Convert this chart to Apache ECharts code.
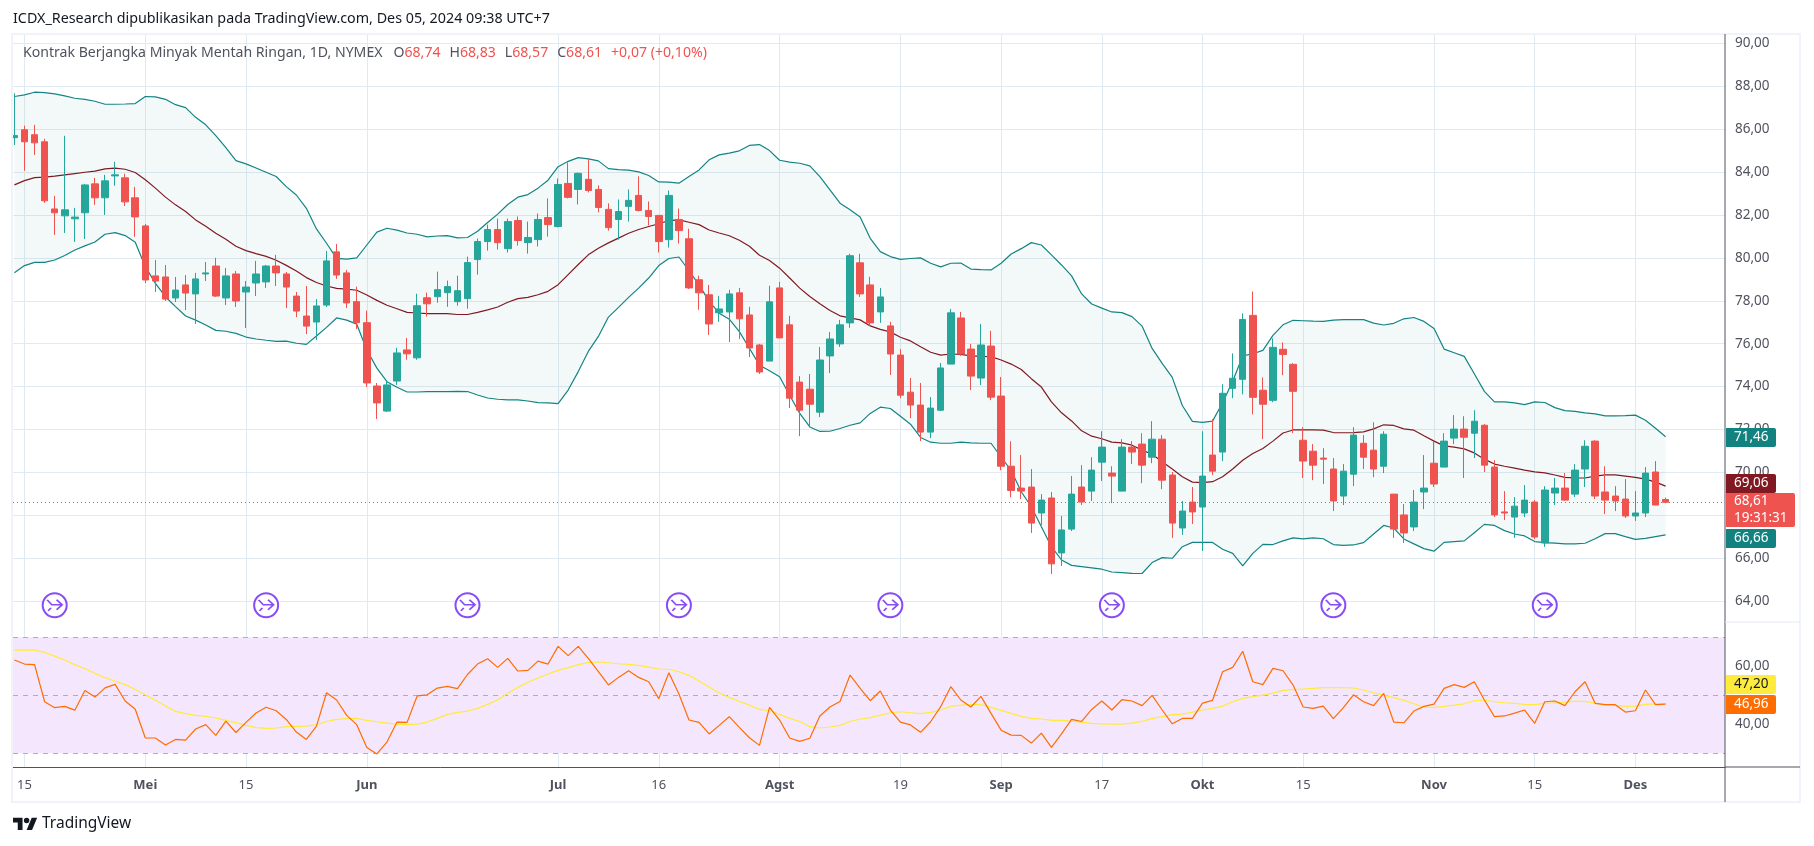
<!DOCTYPE html>
<html><head><meta charset="utf-8">
<style>html,body{margin:0;padding:0;background:#fff}#c{width:1814px;height:846px}</style>
<script src="https://cdn.jsdelivr.net/npm/echarts@6/dist/echarts.min.js"></script>
</head><body><div id="c"></div>
<script>
const opens=[85.6,85.97,85.74,85.41,82.28,81.96,81.82,82.10,83.45,82.80,83.82,83.73,82.80,81.49,79.16,79.11,78.13,78.74,78.32,79.25,79.62,78.13,79.25,78.41,78.83,78.88,79.62,79.25,78.22,77.29,77.01,77.80,80.28,79.30,77.96,76.98,74.03,72.86,74.26,75.71,75.34,78.14,78.19,78.38,77.96,78.10,79.92,80.76,81.32,80.43,81.74,80.71,80.85,81.88,81.46,83.47,83.19,83.66,83.19,82.26,81.79,82.40,82.91,82.21,81.98,80.85,81.79,
80.89,78.98,78.28,77.44,77.48,78.37,77.34,75.94,75.19,78.60,76.88,74.21,73.88,72.81,75.43,75.99,76.97,79.77,78.74,77.48,76.83,75.47,73.74,73.14,71.88,72.90,75.05,77.20,75.75,74.40,75.89,73.56,70.29,
69.27,69.32,68.11,68.81,66.25,67.36,69.32,69.13,70.48,69.97,69.13,71.18,71.32,70.71,71.55,69.88,67.41,68.62,68.39,70.81,70.95,73.92,74.34,77.32,73.83,73.36,75.74,75.04,71.50,70.99,70.67,70.16,68.90,
69.92,71.36,71.04,70.29,68.99,68.02,67.46,69.09,70.43,70.25,71.60,72.02,71.83,72.20,70.25,68.16,67.92,68.11,68.62,66.71,69.04,69.27,68.99,70.16,71.46,69.09,68.90,68.76,67.97,68.11,70.02,68.74];
const closes=[85.7,85.41,85.36,82.66,82.10,82.24,81.9,83.40,82.80,83.59,83.87,82.61,81.91,78.97,78.92,78.08,78.50,78.36,79.02,79.30,78.22,79.16,77.99,78.64,79.25,79.62,79.30,78.64,77.52,76.82,77.76,79.86,79.20,77.90,76.98,74.17,73.24,74.08,75.57,75.53,77.77,77.86,78.52,78.66,78.47,79.78,80.76,81.32,80.71,81.69,80.81,80.95,81.79,81.55,83.42,82.82,83.94,83.14,82.35,81.41,82.16,82.68,82.21,81.93,80.76,82.91,81.27,
78.60,78.37,76.92,77.62,78.32,77.16,75.80,74.68,77.95,76.27,73.46,72.90,73.18,75.24,76.22,76.88,80.10,78.32,76.97,78.18,75.52,73.60,73.14,71.88,73.0,74.87,77.44,75.52,74.49,75.94,73.51,70.29,69.16,
69.13,67.64,68.71,65.74,67.32,68.99,68.62,70.11,71.18,69.83,71.18,70.95,70.34,71.55,69.64,67.64,68.20,68.16,69.83,70.06,73.69,74.39,77.13,73.50,73.18,75.83,75.50,73.78,70.53,70.34,70.62,68.67,70.06,
71.74,70.71,70.16,71.78,67.36,67.18,68.62,69.27,69.46,71.46,72.02,71.64,72.39,70.34,68.02,68.11,68.43,68.71,66.99,69.18,69.27,68.71,70.11,71.22,68.90,68.71,68.67,67.97,68.11,69.97,68.48,68.61];
const highs=[87.67,86.16,86.2,85.55,82.89,85.69,82.33,83.45,83.73,83.87,84.48,83.92,83.31,81.58,79.90,79.67,79.11,79.20,79.30,79.81,80.0,79.53,79.39,78.92,79.86,79.67,80.14,79.34,78.41,78.69,78.08,80.32,80.65,79.44,78.66,77.54,74.17,74.22,75.81,76.27,78.33,78.38,79.36,78.94,79.17,80.06,80.90,81.55,81.83,81.83,81.93,81.69,82.07,82.77,83.70,84.45,83.98,84.62,83.38,82.54,82.72,83.19,83.80,82.63,81.98,83.14,82.30,
81.36,79.17,78.74,78.23,78.51,78.60,77.72,75.99,78.70,78.88,77.30,74.49,74.59,75.85,76.55,77.11,80.19,80.19,79.12,78.60,77.02,75.75,74.40,74.17,73.51,75.10,77.62,77.48,75.99,76.92,76.60,74.45,71.45,
70.81,70.16,68.99,69.09,67.97,69.83,70.34,70.71,71.92,70.29,71.55,71.46,71.83,72.39,71.74,70.02,68.67,69.32,71.92,72.48,74.11,75.55,77.41,78.43,74.43,76.25,76.06,75.09,72.11,71.32,71.13,70.67,70.39,
72.11,71.74,72.34,71.92,68.99,68.53,69.18,70.81,71.46,71.83,72.67,72.62,72.90,72.25,70.57,69.13,68.85,69.41,68.71,69.36,69.74,69.97,70.39,71.50,71.50,70.29,69.36,69.69,69.13,70.25,70.53,68.83];
const lows=[85.26,84.06,84.80,82.56,81.07,81.16,80.74,80.88,82.47,82.00,83.36,82.42,80.98,78.83,78.41,77.99,77.94,77.57,76.92,78.92,78.18,77.80,77.71,76.73,78.22,78.60,78.69,77.66,77.24,76.45,76.17,77.71,79.02,77.66,76.69,73.98,72.49,72.82,74.08,75.25,75.25,77.26,77.91,77.72,77.77,77.63,79.22,80.34,80.39,80.25,80.57,80.20,80.53,80.99,81.42,82.77,82.49,83.05,82.12,81.27,80.85,81.69,82.16,81.51,80.25,80.48,80.67,
78.55,77.58,76.41,77.02,76.08,76.22,75.38,74.59,75.19,76.27,73.0,71.69,72.16,72.58,74.63,75.85,76.74,78.18,76.83,76.97,74.54,73.46,72.53,71.46,71.60,72.86,75.05,75.43,73.84,74.07,73.37,70.10,68.84,
68.76,67.18,67.55,65.27,65.64,67.27,68.48,68.67,69.60,68.57,69.13,70.39,69.50,70.43,69.22,66.95,67.09,67.60,66.34,69.88,70.53,73.46,73.64,72.71,71.55,73.27,74.53,71.83,69.74,69.64,69.46,68.20,68.48,
69.36,70.16,69.78,69.97,66.95,66.71,67.27,68.29,69.32,70.25,71.32,69.74,70.67,70.02,67.92,67.78,66.95,67.92,66.90,66.53,68.48,68.67,68.85,69.32,68.76,68.06,68.20,67.88,67.74,67.92,68.48,68.57];
const bbUpper=[87.52,87.6,87.72,87.7,87.64,87.55,87.44,87.39,87.3,87.16,87.16,87.17,87.19,87.52,87.5,87.39,87.14,87.0,86.55,86.2,85.7,85.14,84.53,84.38,84.19,83.99,83.79,83.32,82.93,82.31,81.35,80.68,79.98,79.94,80.0,80.6,81.2,81.38,81.29,81.16,81.1,80.98,81.02,81.04,80.93,80.95,81.24,81.65,82.04,82.49,82.83,82.95,83.25,83.62,84.25,84.5,84.67,84.61,84.52,84.16,84.11,
84.09,84.01,83.84,83.54,83.53,83.48,83.79,84.10,84.57,84.80,84.88,84.99,85.24,85.28,85.0,84.55,84.46,84.41,84.29,83.79,83.17,82.55,82.24,81.91,80.91,80.29,80.06,79.93,79.97,80.0,79.75,79.58,79.75,79.76,79.48,79.45,79.44,79.75,80.18,80.43,80.71,80.6,80.14,79.67,79.16,78.32,77.85,77.66,77.48,77.45,77.26,76.82,75.78,75.08,74.43,73.12,72.38,72.33,72.39,
73.25,74.25,75.43,75.53,75.69,76.39,76.88,77.09,77.07,77.05,77.04,77.10,77.12,77.12,77.12,76.96,76.87,76.95,77.16,77.22,77.04,76.71,75.75,75.58,75.41,74.60,73.78,73.29,73.29,73.24,73.16,73.29,73.26,73.02,72.88,72.85,72.78,72.73,72.64,72.64,72.65,72.67,72.43,72.06,71.66];
const bbLower=[79.31,79.64,79.79,79.79,79.90,80.11,80.37,80.56,80.74,81.10,81.18,81.04,80.73,79.59,78.81,78.19,77.73,77.29,77.10,76.87,76.62,76.58,76.48,76.31,76.22,76.16,76.11,76.12,76.02,75.97,76.36,76.76,77.2,77.1,76.91,75.71,74.86,74.23,73.97,73.75,73.75,73.77,73.77,73.77,73.78,73.77,73.61,73.47,73.41,73.38,73.38,73.33,73.25,73.24,73.21,73.84,74.70,75.64,76.34,77.24,77.69,78.16,78.59,79.06,79.64,79.97,80.04,
79.4,78.74,77.97,77.42,77.14,76.56,75.79,75.0,74.74,74.46,73.60,72.75,72.12,71.91,71.92,72.05,72.20,72.31,72.75,73.04,72.98,72.62,72.25,71.63,71.41,71.36,71.36,71.41,71.38,71.36,71.36,70.72,70.09,
69.10,68.40,67.47,66.54,65.92,65.67,65.61,65.55,65.49,65.36,65.33,65.30,65.29,65.80,66.03,66.0,66.54,66.74,66.74,66.74,66.42,66.23,65.64,66.23,66.65,66.64,66.81,66.95,66.90,66.95,66.91,66.64,66.60,
66.62,66.73,67.13,67.53,67.41,66.90,66.67,66.45,66.33,66.74,66.78,66.81,67.19,67.58,67.53,67.29,67.13,67.04,66.78,66.73,66.71,66.67,66.67,66.70,66.91,67.15,67.15,67.01,66.88,66.93,67.01,67.09];
const bbBasis=[83.40,83.60,83.74,83.76,83.81,83.87,83.93,83.99,84.04,84.15,84.18,84.13,83.98,83.64,83.25,82.83,82.47,82.16,81.77,81.47,81.15,80.87,80.54,80.34,80.20,80.07,79.89,79.65,79.39,79.08,78.85,78.69,78.58,78.54,78.49,78.27,78.02,77.79,77.63,77.46,77.43,77.40,77.40,77.40,77.36,77.36,77.46,77.58,77.71,77.93,78.10,78.16,78.28,78.44,78.75,79.22,79.69,80.14,80.45,80.70,80.92,81.15,81.32,81.46,81.59,81.74,81.77,
81.66,81.55,81.30,81.16,81.03,80.82,80.54,80.12,79.88,79.52,79.06,78.59,78.20,77.86,77.55,77.30,77.20,77.11,76.83,76.67,76.55,76.30,76.13,75.86,75.60,75.47,75.52,75.50,75.43,75.41,75.40,75.24,75.05,
74.80,74.37,73.98,73.29,72.78,72.40,71.94,71.69,71.57,71.41,71.38,71.27,71.04,70.85,70.50,70.16,69.80,69.55,69.53,69.57,69.80,70.16,70.57,70.88,71.12,71.46,71.84,71.98,71.98,71.98,71.97,71.86,71.85,
71.86,71.89,72.03,72.22,72.19,72.03,71.97,71.71,71.46,71.24,71.18,71.10,70.91,70.62,70.39,70.29,70.20,70.11,70.03,69.98,69.88,69.77,69.75,69.74,69.83,69.89,69.89,69.83,69.77,69.69,69.55,69.36];
const rsi=[62.18,60.8,60.57,47.8,45.75,46.2,44.9,51.7,49.4,52.6,53.8,48.05,45.2,35.3,35.3,32.9,34.8,34.6,38.4,39.9,36.2,41.15,37.2,40.7,43.9,45.9,44.7,41.7,37.35,34.8,39.4,50.9,48.4,43.1,39.9,32,29.8,33.9,40.8,40.7,49.8,50.2,52.5,53.1,52.3,57.2,60.8,62.6,59.65,62.75,58.4,58.6,61.8,60.8,66.9,63.7,66.9,62.75,58.15,53.6,56.2,
58.5,56.2,54.7,48.85,57.8,50.45,41.5,40.7,36.7,39.65,42.65,38.95,35.4,32.75,45.85,41.5,35.3,34.15,35.2,42.9,46,47.9,57,52.4,48.15,51.5,44.95,40.8,39.8,37.25,40.9,46.1,53,48.4,46,49.65,43.8,38,36.3,36.2,33.55,37,32.1,36.7,41.7,41,45.15,48.05,44.95,48.5,48.05,46.45,50,44.95,40.2,42.05,42.05,47.3,48.3,
58.15,59.65,65.2,54.7,53.7,59.3,58.5,53.55,46,45.5,46.3,41.95,45.75,50.2,47.8,46.45,50.7,40.8,40.55,44.6,46.2,47,52.4,53.7,52.75,54.7,48.4,42.65,42.9,43.9,44.95,40.35,47.8,48.05,46.45,51.25,54.7,47.25,46.8,46.8,44.25,44.7,51.85,46.8,46.96];
const rsiMa=[65.6,65.6,65.6,64.8,63.55,62.2,60.6,59.2,57.6,56.1,54.95,53.7,52.05,50.2,48.3,46.3,44.5,43.7,43.1,42.75,42.2,41.4,40.6,39.65,38.85,38.6,38.75,39.2,39.3,39.4,39.9,41,41.75,41.95,42.05,41.4,40.9,40.45,40.1,39.9,40.1,40.8,42.05,43.45,44.15,44.6,45.5,46.9,48.4,50.7,52.75,54.5,56,57.35,58.6,59.55,60.6,61.4,61.5,61.25,60.9,
60.7,60.35,59.75,59.1,59,58.15,56.9,54.95,52.85,50.8,49.3,47.9,46.65,45.15,44.7,43.45,42.05,41,39.2,38.75,39.1,39.65,41,41.85,42.3,43.2,44,44.35,44,43.7,44.15,44.95,46.2,46.65,46.8,46.8,45.85,44.85,43.8,42.75,42.05,41.85,41.4,41.4,41.15,40.8,40.35,40.2,40.1,40.1,40.45,41,42.05,42.65,43.35,43.55,44.25,44.95,45.5,
46.3,47.8,48.95,49.55,50.1,50.8,51.7,51.95,52.2,52.4,52.65,52.65,52.65,52.55,51.85,50.9,50,49.2,48.3,47.1,46,45.75,46.2,46.65,47.1,48.15,48.4,47.8,47.45,47.25,46.9,46.8,47.25,47.45,47.7,47.95,47.95,47.35,46.65,46.65,46.2,46.3,46.9,47.1,47.2];
const timeTicks={1:'15',13:'Mei',23:'15',35:'Jun',54:'Jul',64:'16',76:'Agst',88:'19',98:'Sep',108:'17',118:'Okt',128:'15',141:'Nov',151:'15',161:'Des'};
const monthLabels=['Mei','Jun','Jul','Agst','Sep','Okt','Nov','Des'];
const priceTicks=[64,66,68,70,72,74,76,78,80,82,84,86,88,90];
const rsiTicks=[40,60];
const rsiBands=[70,50,30];
const rolloverBars=[4,25,45,66,87,109,131,152];
const rolloverLevel=63.81;
const lastPrice=68.61;
const titleText='ICDX_Research dipublikasikan pada TradingView.com, Des 05, 2024 09:38 UTC+7';
const symbolText='Kontrak Berjangka Minyak Mentah Ringan, 1D, NYMEX';
const ohlcText=[['O','68,74'],['H','68,83'],['L','68,57'],['C','68,61']];
const changeText='+0,07 (+0,10%)';

const FONT='"Noto Sans"';
const tickIdx=Object.keys(timeTicks).map(Number);
const UP='#26a69a',DOWN='#ef5350',BB='#138484',MID='#801922',GRID='#e2eaf1';
const pair=a=>a.map((v,i)=>[i,v]);
const XMIN=-0.142,XMAX=169.9;
const L=13,R=1725;
function xAxis(idx,show){return {type:'value',gridIndex:idx,min:XMIN,max:XMAX,
  axisLine:{show:show,onZero:false,lineStyle:{color:'#50535e',width:1}},
  axisTick:{show:false,customValues:tickIdx},
  splitLine:{show:true,lineStyle:{color:GRID,width:1}},
  axisLabel:{show:show,customValues:tickIdx,margin:12,hideOverlap:false,showMinLabel:true,showMaxLabel:true,
    fontFamily:FONT,fontSize:13,color:'#50535e',
    formatter:v=>{const t=timeTicks[v];return monthLabels.includes(t)?'{m|'+t+'}':t;},
    rich:{m:{fontFamily:FONT,fontSize:13,fontWeight:'bold',color:'#50535e'}}}};}
const chart=echarts.init(document.getElementById('c'),null,{renderer:'canvas'});
const option={animation:false,backgroundColor:'#fff',
 grid:[{left:L,width:R-L,top:33,height:589},{left:L,width:R-L,top:622,height:145}],
 xAxis:[xAxis(0,false),xAxis(1,true)],
 yAxis:[
  {type:'value',gridIndex:0,position:'right',min:63.03,max:90.48,
   axisLine:{show:false},axisTick:{show:false,customValues:priceTicks},
   splitLine:{show:true,lineStyle:{color:GRID,width:1}},
   axisLabel:{customValues:priceTicks,margin:10,fontFamily:FONT,fontSize:13.5,color:'#50535e',formatter:v=>v.toFixed(2).replace('.',',')}},
  {type:'value',gridIndex:1,position:'right',min:25.3,max:75.3,
   axisLine:{show:false},axisTick:{show:false,customValues:rsiTicks},
   splitLine:{show:true,lineStyle:{color:'#e0daf3',width:1}},
   axisLabel:{customValues:rsiTicks,margin:10,fontFamily:FONT,fontSize:13.5,color:'#50535e',formatter:v=>v.toFixed(2).replace('.',',')}}],
 series:[
  {name:'bbBand',type:'custom',xAxisIndex:0,yAxisIndex:0,z:1,clip:true,silent:true,data:[[0,bbLower[0]]],encode:{x:0,y:1},
   renderItem:(params,api)=>({type:'polygon',
     shape:{points:bbUpper.map((v,i)=>api.coord([i,v])).concat(bbLower.map((v,i)=>api.coord([i,v])).reverse())},
     style:{fill:'rgba(19,132,132,0.05)',stroke:'none'}})},
  {name:'bbLower',type:'line',xAxisIndex:0,yAxisIndex:0,z:2,data:pair(bbLower),symbol:'none',lineStyle:{color:BB,width:1.2},silent:true},
  {name:'bbUpper',type:'line',xAxisIndex:0,yAxisIndex:0,z:2,data:pair(bbUpper),symbol:'none',lineStyle:{color:BB,width:1.2},silent:true},
  {name:'bbBasis',type:'line',xAxisIndex:0,yAxisIndex:0,z:3,data:pair(bbBasis),symbol:'none',lineStyle:{color:MID,width:1.2},silent:true},
  {name:'price',type:'candlestick',xAxisIndex:0,yAxisIndex:0,z:5,barWidth:7,
   data:opens.map((o,i)=>[i,o,closes[i],lows[i],highs[i]]),
   itemStyle:{color:UP,color0:DOWN,borderColor:UP,borderColor0:DOWN,borderWidth:1},
   markLine:{silent:true,symbol:'none',label:{show:false},animation:false,
     data:[{yAxis:lastPrice}],lineStyle:{color:DOWN,type:[1,3],width:1}}},
  {name:'rollover',type:'scatter',xAxisIndex:0,yAxisIndex:0,z:6,symbol:'circle',symbolSize:24,data:rolloverBars.map(i=>[i,rolloverLevel]),
   itemStyle:{color:'#fff',borderColor:'#6a1ff5',borderWidth:2},silent:true},
  {name:'rolloverArrow',type:'scatter',xAxisIndex:0,yAxisIndex:0,z:7,symbol:'path://M0 0L5 5L16 5M10 0L16 5L10 10M1 11L4 8',symbolSize:[15,11],data:rolloverBars.map(i=>[i,rolloverLevel]),
   itemStyle:{color:'transparent',borderColor:'#6a1ff5',borderWidth:1.6},silent:true},
  {name:'rsi',type:'line',xAxisIndex:1,yAxisIndex:1,z:4,data:pair(rsi),symbol:'none',lineStyle:{color:'#ff6d00',width:1.2},silent:true,
   markArea:{silent:true,itemStyle:{color:'#f4e6fd'},data:[[{yAxis:rsiBands[2]},{yAxis:rsiBands[0]}]],z:1},
   markLine:{silent:true,symbol:'none',label:{show:false},animation:false,z:1,
     data:rsiBands.map(v=>({yAxis:v})),lineStyle:{color:'#b2acb8',type:[5,5],width:1}}},
  {name:'rsiMa',type:'line',xAxisIndex:1,yAxisIndex:1,z:3,data:pair(rsiMa),symbol:'none',lineStyle:{color:'#ffeb3b',width:1.2},silent:true}
 ]};
chart.setOption(option);
function tag(y,h,w,bg,lines,color){const els=[{type:'rect',z:50,shape:{x:R+1,y:y,width:w,height:h,r:[0,2,2,0]},style:{fill:bg}}];
 lines.forEach((t,i)=>els.push({type:'text',z:51,style:{x:R+9,y:y+(h/lines.length)*(i+.5),text:t.text,font:'13.5px '+FONT,fill:t.color||color,textVerticalAlign:'middle'}}));
 return els;}
const LS=24.5/36;
const lp=(pts)=>pts.map(p=>[13+p[0]*LS,815+p[1]*LS]);
const g=[
 {type:'rect',z:40,shape:{x:12,y:34,width:1788,height:768},style:{fill:'none',stroke:'#f0f3fa',lineWidth:2}},
 {type:'line',z:41,shape:{x1:R,y1:34,x2:R,y2:802},style:{stroke:'#50535e',lineWidth:1}},
 {type:'line',z:41,shape:{x1:R,y1:622,x2:1800,y2:622},style:{stroke:GRID,lineWidth:1}},
 {type:'line',z:41,shape:{x1:R,y1:767,x2:1800,y2:767},style:{stroke:'#50535e',lineWidth:1}},
 {type:'text',z:60,style:{x:13,y:19,text:titleText,font:'14.3px '+FONT,fill:'#131722',textVerticalAlign:'middle'}},
 {type:'text',z:60,style:{x:23,y:53,text:'{s|'+symbolText+'}   '+ohlcText.map(p=>'{s|'+p[0]+'}{r|'+p[1]+'}').join('  ')+'  {r|'+changeText+'}',
   font:'14.1px '+FONT,textVerticalAlign:'middle',rich:{s:{fill:'#50535e',font:'14.1px '+FONT},r:{fill:DOWN,font:'14.1px '+FONT,padding:[0,1.6,0,0]}}}},
 {type:'polygon',z:60,shape:{points:lp([[14,22],[7,22],[7,11],[0,11],[0,4],[14,4]])},style:{fill:'#131722'}},
 {type:'polygon',z:60,shape:{points:lp([[28,22],[20,22],[27.5,4],[35.5,4]])},style:{fill:'#131722'}},
 {type:'circle',z:60,shape:{cx:13+20*LS,cy:815+8*LS,r:4*LS},style:{fill:'#131722'}},
 {type:'text',z:60,style:{x:42,y:824,text:'TradingView',font:'15.5px '+FONT,fill:'#131722',textVerticalAlign:'middle'}},
 ...tag(428,19,50,'#128281',[{text:'71,46'}],'#fff'),
 ...tag(474,19,50,'#801922',[{text:'69,06'}],'#fff'),
 ...tag(493,34,69,'#ef5350',[{text:'68,61'},{text:'19:31:31'}],'#fff'),
 ...tag(529,19,50,'#128281',[{text:'66,66'}],'#fff'),
 ...tag(675,19,50,'#ffeb3b',[{text:'47,20'}],'#131722'),
 ...tag(695,19,50,'#ff6d00',[{text:'46,96'}],'#fff')
];
chart.setOption({graphic:{elements:g}});
</script></body></html>
